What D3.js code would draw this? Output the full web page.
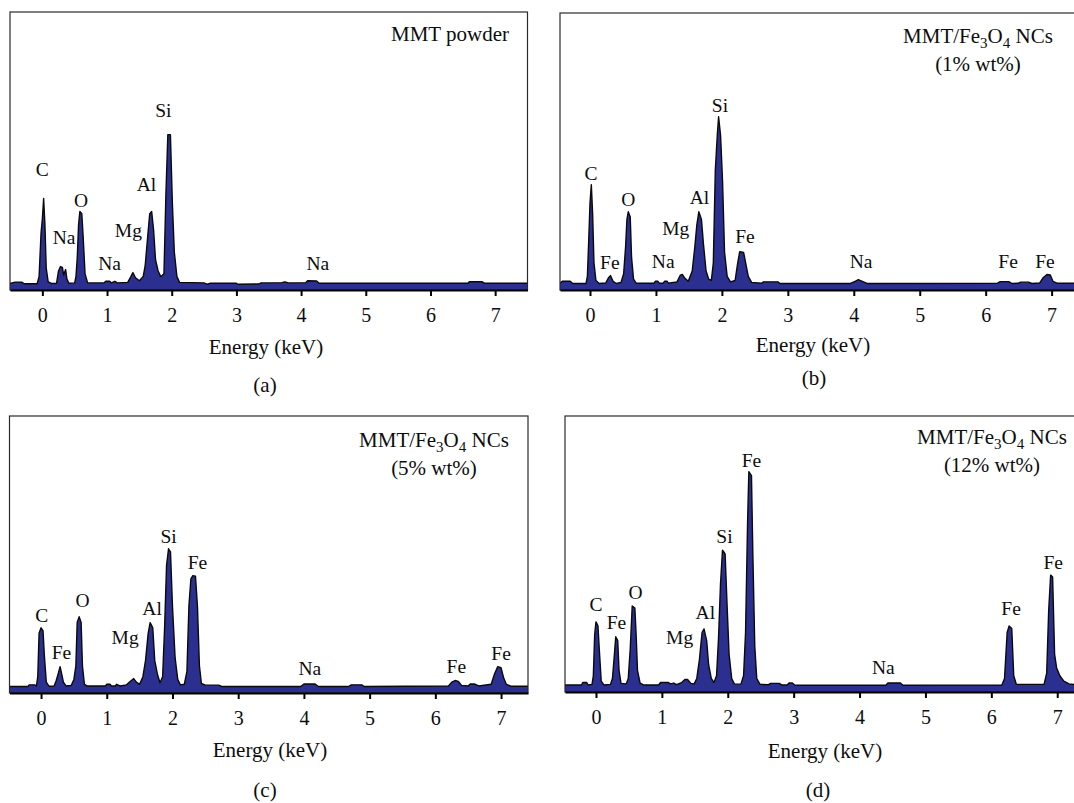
<!DOCTYPE html>
<html>
<head>
<meta charset="utf-8">
<script src="https://cdn.jsdelivr.net/npm/d3@7"></script>
<style>
  body { margin: 0; background: #fff; }
  text { font-family: "Liberation Serif", "Times New Roman", serif; fill: #0d0d0d; }
</style>
</head>
<body>
<svg id="chart" width="1074" height="803"></svg>
<script>
// EDS spectra, [energy keV, counts (relative)]
const ticksKeV = [0, 1, 2, 3, 4, 5, 6, 7];

const spectrumA = [
  [-0.5,0.4],[-0.42,0.9],[-0.32,0.9],[-0.28,0.3],[-0.08,0.3],[-0.05,3],[-0.02,19],[0.0,24],[0.02,31.6],[0.04,22],
  [0.06,6],[0.09,1],[0.14,0.4],[0.22,0.5],[0.25,5],[0.28,6.6],[0.31,6.3],[0.33,3.5],[0.36,5.5],[0.38,2],[0.41,0.5],
  [0.5,0.6],[0.52,3],[0.54,10],[0.56,22],[0.58,26.8],[0.61,26],[0.63,18],[0.66,4],[0.7,0.6],[0.95,0.6],[0.98,1.2],
  [1.04,1.2],[1.07,0.6],[1.12,1.2],[1.16,0.6],[1.32,0.8],[1.37,3],[1.4,4.4],[1.44,2.5],[1.5,1.4],[1.56,3],[1.59,7],
  [1.63,18],[1.66,26],[1.69,26.8],[1.72,20],[1.75,9],[1.79,5],[1.83,2.9],[1.88,4],[1.91,33],[1.94,55],[1.98,55],
  [2.01,30],[2.04,12],[2.08,3],[2.12,0.8],[2.5,0.6],[2.55,0.1],[2.6,0.5],[3.0,0.5],[3.02,0.1],[3.35,0.2],[3.38,0.6],
  [3.7,0.7],[3.75,1.0],[3.8,0.6],[4.07,0.7],[4.1,1.4],[4.24,1.3],[4.28,0.5],[6.58,0.5],[6.6,1.0],[6.8,1.0],
  [6.83,0.5],[7.5,0.5]
];
const spectrumB = [
  [-0.455,0.5],[-0.42,1.2],[-0.3,1.2],[-0.26,0.4],[-0.06,0.4],[-0.04,3],[-0.02,16],[0.0,30],[0.02,36.8],[0.04,26],
  [0.06,8],[0.09,1.5],[0.14,0.4],[0.24,0.6],[0.28,2.5],[0.31,3.3],[0.35,1.2],[0.4,0.4],[0.47,0.8],[0.51,4],[0.54,14],
  [0.56,24],[0.58,26.8],[0.61,25],[0.63,10],[0.66,2],[0.7,0.5],[0.97,0.5],[0.99,1.2],[1.03,1.2],[1.05,0.5],[1.11,0.5],
  [1.13,1.2],[1.17,1.2],[1.19,0.5],[1.32,1],[1.37,3.5],[1.4,3.7],[1.44,2.3],[1.49,1.2],[1.55,5],[1.59,14],[1.62,22],
  [1.65,26.8],[1.69,24],[1.72,15],[1.76,5],[1.8,2],[1.84,1.5],[1.87,8],[1.9,42],[1.93,55],[1.95,61.8],[1.98,55],
  [2.01,38],[2.04,12],[2.08,3],[2.13,1],[2.2,1.5],[2.24,8],[2.27,12.1],[2.33,11.8],[2.36,8],[2.4,3],[2.45,0.8],
  [2.6,0.5],[2.63,1.0],[2.85,1.0],[2.88,0.4],[3.95,0.4],[4.02,1.2],[4.07,1.8],[4.12,1.3],[4.2,0.4],[6.18,0.5],
  [6.22,1.1],[6.35,1.1],[6.4,0.4],[6.5,0.5],[6.53,0.9],[6.65,0.9],[6.7,0.4],[6.82,0.6],[6.87,2.5],[6.93,3.7],
  [6.98,3.5],[7.02,1.2],[7.08,0.5],[7.4,0.5]
];
const spectrumC = [
  [-0.48,0.4],[-0.2,0.4],[-0.18,1.0],[-0.1,1.0],[-0.07,0.6],[-0.05,4],[-0.03,20],[0.0,22],[0.03,21],[0.05,12],
  [0.08,2],[0.12,0.5],[0.2,0.6],[0.23,2.5],[0.26,5],[0.29,7.7],[0.31,5.5],[0.34,2],[0.38,0.6],[0.46,0.8],[0.5,3],
  [0.53,8],[0.55,24],[0.58,26.1],[0.61,24],[0.63,8],[0.66,1.2],[0.7,0.6],[0.98,0.6],[1.0,1.2],[1.05,1.2],[1.07,0.6],
  [1.13,0.6],[1.15,1.2],[1.2,0.6],[1.3,1.0],[1.36,2.3],[1.41,3.3],[1.45,2],[1.5,1.2],[1.55,4],[1.59,10],[1.63,20],
  [1.66,23.9],[1.7,22],[1.73,10],[1.77,5],[1.81,1.8],[1.85,4],[1.88,22],[1.91,45],[1.94,51.1],[1.97,50],[2.0,30],
  [2.04,11],[2.08,3],[2.12,1],[2.18,1.2],[2.22,6],[2.25,30],[2.28,40],[2.31,41.2],[2.35,41],[2.38,30],[2.41,8],
  [2.44,1.5],[2.5,0.9],[2.7,0.9],[2.75,0.4],[3.95,0.4],[4.0,1.3],[4.17,1.3],[4.22,0.4],[4.68,0.4],[4.72,1.0],
  [4.88,1.0],[4.92,0.4],[6.2,0.6],[6.25,2],[6.3,2.6],[6.35,2.3],[6.4,0.8],[6.5,0.6],[6.53,1.3],[6.6,1.3],[6.66,0.6],
  [6.85,1.2],[6.9,5],[6.95,7.7],[7.0,7.3],[7.04,3.5],[7.08,1.2],[7.15,0.5],[7.41,0.5]
];
const spectrumD = [
  [-0.47,0.6],[-0.22,0.6],[-0.2,1.5],[-0.14,1.5],[-0.12,0.6],[-0.06,0.8],[-0.04,4],[-0.02,19],[0.0,23.9],[0.03,22.5],
  [0.05,14],[0.08,2],[0.12,0.6],[0.22,0.8],[0.25,3],[0.28,12],[0.3,18.4],[0.33,17],[0.35,6],[0.38,1.2],[0.46,1],
  [0.49,3],[0.52,14],[0.55,29.8],[0.59,29],[0.61,19],[0.63,6],[0.67,1.3],[0.72,0.6],[0.95,0.6],[0.98,1.5],[1.1,1.5],
  [1.13,1.0],[1.18,1.3],[1.22,0.7],[1.3,1.5],[1.35,2.6],[1.39,2.6],[1.44,1.2],[1.49,1.0],[1.53,3],[1.57,10],[1.61,20],
  [1.64,21.3],[1.68,17],[1.71,8],[1.75,3],[1.79,1.5],[1.83,4],[1.86,18],[1.89,38],[1.92,50.4],[1.96,49],[1.99,30],
  [2.02,12],[2.06,3],[2.1,1],[2.2,0.9],[2.24,4],[2.27,20],[2.3,60],[2.32,79.4],[2.36,78],[2.38,50],[2.41,15],
  [2.44,3],[2.49,0.8],[2.62,0.7],[2.65,1.2],[2.78,1.2],[2.82,0.6],[2.9,0.6],[2.93,1.3],[2.98,1.3],[3.02,0.5],
  [4.4,0.5],[4.43,1.3],[4.62,1.3],[4.66,0.5],[6.16,0.6],[6.2,3],[6.24,20],[6.27,22.4],[6.31,21.5],[6.34,4],
  [6.38,0.8],[6.8,0.8],[6.84,5],[6.87,28],[6.9,41.2],[6.93,40.5],[6.96,12],[6.99,7],[7.04,4],[7.1,2],[7.18,1],
  [7.3,0.6]
];

// element labels: [element, keV, counts at text baseline]
const labelsA = [["C",0.0,40.0],["Na",0.335,14.7],["O",0.6,28.6],["Na",1.04,5.5],["Mg",1.33,17.6],
                 ["Al",1.61,34.5],["Si",1.87,61.3],["Na",4.26,5.5]];
const labelsB = [["C",0.016,38.5],["Fe",0.3,5.9],["O",0.58,29.0],["Na",1.11,6.2],["Mg",1.3,18.3],["Al",1.66,29.7],
                 ["Si",1.97,63.5],["Fe",2.35,15.4],["Na",4.11,6.2],["Fe",6.34,6.2],["Fe",6.9,6.2]];
const labelsC = [["C",0.01,24.0],["Fe",0.31,10.7],["O",0.63,29.5],["Mg",1.28,16.2],["Al",1.69,26.9],
                 ["Si",1.94,53.1],["Fe",2.38,43.5],["Na",4.09,4.8],["Fe",6.32,5.2],["Fe",7.0,10.0]];
const labelsD = [["C",0.0,27.8],["Fe",0.31,21.1],["O",0.6,32.2],["Mg",1.27,15.6],["Al",1.66,24.8],
                 ["Si",1.95,52.9],["Fe",2.36,81.0],["Na",4.36,4.5],["Fe",6.3,26.6],["Fe",6.94,43.3]];

const sampleNames = ["MMT powder", "MMT/Fe3O4 NCs", "MMT/Fe3O4 NCs", "MMT/Fe3O4 NCs"];
const loadings = [null, "(1% wt%)", "(5% wt%)", "(12% wt%)"];
const captions = ["(a)", "(b)", "(c)", "(d)"];

// panel geometry (pixels) -- b and d run off the right edge like the original
const panels = [
  {spec: spectrumA, labels: labelsA, xDom: [-0.5, 7.5],   left: 10,  right: 527.5, top: 12,  bottom: 290,
   titleX: 509, titleY: 41, titleAnchor: "end", axTitleX: 266, axTitleY: 354, capX: 265, capY: 392},
  {spec: spectrumB, labels: labelsB, xDom: [-0.455, 7.4], left: 560, right: 1078,  top: 13,  bottom: 290,
   titleX: 978, titleY: 43, titleAnchor: "middle", axTitleX: 813, axTitleY: 352, capX: 814, capY: 385},
  {spec: spectrumC, labels: labelsC, xDom: [-0.48, 7.41], left: 9.5, right: 528,   top: 416, bottom: 693,
   titleX: 434, titleY: 447, titleAnchor: "middle", axTitleX: 270, axTitleY: 757, capX: 265, capY: 797},
  {spec: spectrumD, labels: labelsD, xDom: [-0.47, 7.3],  left: 565, right: 1077,  top: 416, bottom: 692,
   titleX: 992, titleY: 444, titleAnchor: "middle", axTitleX: 825, axTitleY: 758, capX: 818, capY: 797}
];

const svg = d3.select("#chart");
const blue = "#2b2f8f";

function sampleTitle(g, name, x, y, anchor) {
    let t = g.append("text").attr("x", x).attr("y", y)
        .attr("text-anchor", anchor).attr("font-size", 21);
    // split chemical formula so the digits become subscripts
    let parts = name.split(/(\d)/);
    parts.forEach(s => {
        if (s === "") return;
        if (/^\d$/.test(s)) {
            t.append("tspan").attr("dy", 5).attr("font-size", 15).text(s);
        } else {
            let sp = t.append("tspan").text(s);
            if (t.selectAll("tspan").size() > 1) sp.attr("dy", -5);
        }
    });
}

panels.forEach((p, i) => {
    const x = d3.scaleLinear().domain(p.xDom).range([p.left, p.right]);
    const y = d3.scaleLinear().domain([-2, 100]).range([p.bottom, p.top]);
    const g = svg.append("g");

    g.append("clipPath").attr("id", "clip" + i)
      .append("rect").attr("x", p.left).attr("y", p.top)
      .attr("width", p.right - p.left).attr("height", p.bottom - p.top);

    // spectrum fill down to the axis line
    const area = d3.area().x(d => x(d[0])).y0(p.bottom).y1(d => y(d[1]));
    const line = d3.line().x(d => x(d[0])).y(d => y(d[1]));
    g.append("path").datum(p.spec).attr("clip-path", `url(#clip${i})`)
      .attr("d", area).attr("fill", blue);
    g.append("path").datum(p.spec).attr("clip-path", `url(#clip${i})`)
      .attr("d", line).attr("fill", "none").attr("stroke", "#0a0a0a")
      .attr("stroke-width", 1.4).attr("stroke-linejoin", "round");

    // frame
    g.append("rect").attr("x", p.left).attr("y", p.top)
      .attr("width", p.right - p.left).attr("height", p.bottom - p.top)
      .attr("fill", "none").attr("stroke", "#2a2a2a").attr("stroke-width", 1.2);

    // energy axis
    const ax = g.append("g").attr("transform", `translate(0,${p.bottom})`)
      .call(d3.axisBottom(x).tickValues(ticksKeV).tickFormat(d3.format("d"))
            .tickSize(6).tickSizeOuter(0).tickPadding(12));
    ax.select(".domain").attr("stroke", "#000").attr("stroke-width", 2.2);
    ax.selectAll(".tick line").attr("stroke", "#000").attr("stroke-width", 2);
    ax.selectAll(".tick text").attr("font-size", 20)
      .attr("font-family", "Liberation Serif, serif").attr("fill", "#0d0d0d");

    // peak labels
    g.selectAll(".peak").data(p.labels).enter()
      .append("text").attr("class", "peak")
      .attr("x", d => x(d[1])).attr("y", d => y(d[2]))
      .attr("text-anchor", "middle").attr("font-size", 19.5)
      .text(d => d[0]);

    sampleTitle(g, sampleNames[i], p.titleX, p.titleY, p.titleAnchor);
    if (loadings[i]) {
        g.append("text").attr("x", p.titleX).attr("y", p.titleY + 28)
          .attr("text-anchor", "middle").attr("font-size", 21).text(loadings[i]);
    }

    g.append("text").attr("x", p.axTitleX).attr("y", p.axTitleY)
      .attr("text-anchor", "middle").attr("font-size", 21).text("Energy (keV)");
    g.append("text").attr("x", p.capX).attr("y", p.capY)
      .attr("text-anchor", "middle").attr("font-size", 21).text(captions[i]);
});
</script>
</body>
</html>
